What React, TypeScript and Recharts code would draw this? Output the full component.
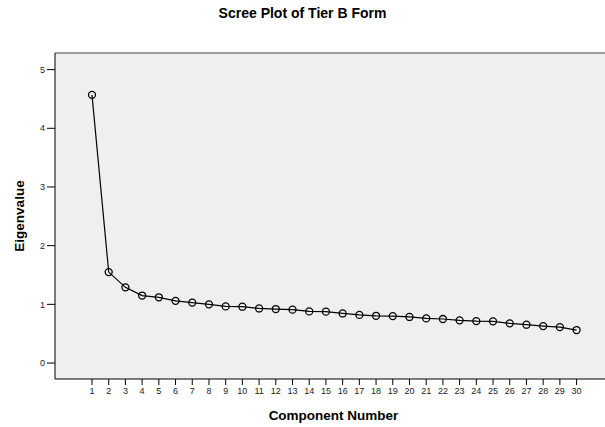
import {
  LineChart,
  Line,
  XAxis,
  YAxis,
  ReferenceArea,
  ReferenceLine,
} from "recharts";

const components = [
  1, 2, 3, 4, 5, 6, 7, 8, 9, 10, 11, 12, 13, 14, 15, 16, 17, 18, 19, 20, 21,
  22, 23, 24, 25, 26, 27, 28, 29, 30,
];
const eigenvalues = [
  4.57, 1.55, 1.29, 1.15, 1.12, 1.06, 1.03, 1.0, 0.965, 0.96, 0.93, 0.92,
  0.91, 0.88, 0.875, 0.845, 0.82, 0.805, 0.8, 0.785, 0.76, 0.75, 0.727, 0.715,
  0.71, 0.676, 0.653, 0.63, 0.613, 0.562,
];
const yTicks = [0, 1, 2, 3, 4, 5];

const xDomain: [number, number] = [-1.214, 32.12];
const yDomain: [number, number] = [-0.272, 5.283];

const data = components.map((c, i) => ({ component: c, value: eigenvalues[i] }));

const font = "'Liberation Sans', Arial, sans-serif";

export default function App() {
  return (
    <div
      style={{
        position: "absolute",
        left: 0,
        top: 0,
        width: 605,
        height: 427,
        overflow: "hidden",
        background: "#fff",
        fontFamily: font,
      }}
    >
      <div
        style={{
          position: "absolute",
          left: 0,
          top: 5,
          width: 605,
          textAlign: "center",
          fontSize: 14,
          fontWeight: "bold",
          lineHeight: "16px",
          color: "#000",
        }}
      >
        Scree Plot of Tier B Form
      </div>
      <LineChart
        width={620}
        height={427}
        data={data}
        margin={{ top: 53, right: 8, bottom: 0, left: 0 }}
      >
        <ReferenceArea
          x1={xDomain[0]}
          x2={xDomain[1]}
          y1={yDomain[0]}
          y2={yDomain[1]}
          fill="#efefef"
          fillOpacity={1}
          stroke="none"
        />
        <ReferenceLine y={yDomain[1]} stroke="#808080" strokeWidth={1.5} />
        <XAxis
          type="number"
          dataKey="component"
          domain={xDomain}
          ticks={components}
          allowDataOverflow
          height={48}
          tickSize={6}
          tickMargin={3}
          stroke="#000"
          tick={{ fill: "#222", fontSize: 9, fontFamily: font }}
          label={{
            value: "Component Number",
            position: "insideBottom",
            offset: 7,
            fill: "#000",
            fontSize: 13.5,
            fontWeight: "bold",
            fontFamily: font,
          }}
        />
        <YAxis
          type="number"
          domain={yDomain}
          ticks={yTicks}
          allowDataOverflow
          width={55}
          tickSize={8}
          tickMargin={2}
          stroke="#000"
          tick={{ fill: "#222", fontSize: 9, fontFamily: font }}
          label={{
            value: "Eigenvalue",
            angle: -90,
            position: "insideLeft",
            offset: 19,
            fill: "#000",
            fontSize: 13.5,
            fontWeight: "bold",
            fontFamily: font,
            style: { textAnchor: "middle" },
          }}
        />
        <Line
          type="linear"
          dataKey="value"
          stroke="#000"
          strokeWidth={1.2}
          dot={{ r: 3.5, stroke: "#000", strokeWidth: 1.3, fill: "none" }}
          isAnimationActive={false}
        />
      </LineChart>
    </div>
  );
}
